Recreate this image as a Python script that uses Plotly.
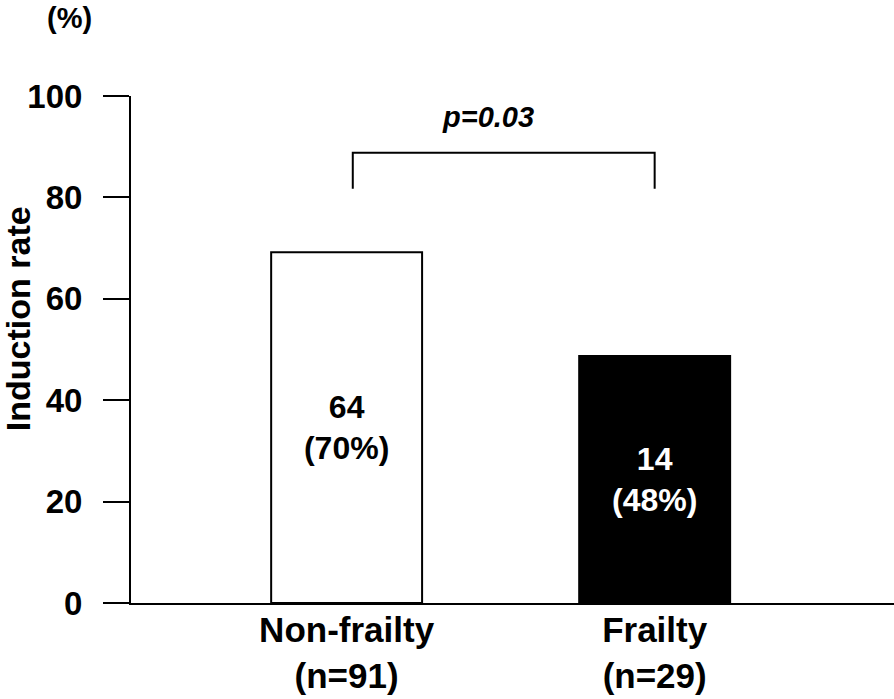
import plotly.graph_objects as go

categories = ["Non-frailty", "Frailty"]
n_labels = ["(n=91)", "(n=29)"]
rates = [69.2, 48.7]
counts = [64, 14]
pct_labels = ["(70%)", "(48%)"]
y_ticks = [0, 20, 40, 60, 80, 100]
p_label = "p=0.03"

FONT = "Liberation Sans, Arial, sans-serif"
xpos = list(range(len(categories)))

fig = go.Figure()
fig.add_trace(go.Bar(
    x=xpos, y=rates, width=0.49,
    marker=dict(color=["white", "black"], line=dict(color="black", width=2)),
    text=[f"{c}<br>{p}" for c, p in zip(counts, pct_labels)],
    textposition="inside", insidetextanchor="middle",
    textfont=dict(family=FONT, size=32, color=["black", "white"], weight="bold"),
    textangle=0, showlegend=False, hoverinfo="skip",
))

# significance bracket
br_top, br_bot = 88.8, 81.7
fig.add_shape(type="path", xref="x", yref="y",
              path=f"M 0.02 {br_bot} L 0.02 {br_top} L 1.0 {br_top} L 1.0 {br_bot}",
              line=dict(color="black", width=2))
fig.add_annotation(x=0.46, y=95.9, xref="x", yref="y", text=f"<i>{p_label}</i>",
                   showarrow=False, xanchor="center", yanchor="middle",
                   font=dict(family=FONT, size=29, color="black", weight="bold"))

fig.add_annotation(x=-0.148, y=0.56, xref="paper", yref="paper", text="Induction rate",
                   textangle=-90, showarrow=False, xanchor="center", yanchor="middle",
                   font=dict(family=FONT, size=34, color="black", weight="bold"))
fig.add_annotation(x=-0.08, y=1.154, xref="paper", yref="paper", text="(%)",
                   showarrow=False, xanchor="center", yanchor="middle",
                   font=dict(family=FONT, size=29, color="black", weight="bold"))

fig.update_layout(
    width=894, height=699,
    margin=dict(l=131, r=0, t=96, b=96),
    plot_bgcolor="white", paper_bgcolor="white",
    font=dict(family=FONT, color="black"),
    xaxis=dict(range=[-0.70, 1.777], tickvals=xpos, automargin=False,
               ticktext=[f"{c}<br>{n}" for c, n in zip(categories, n_labels)],
               showline=True, linecolor="black", linewidth=2, ticks="", showgrid=False,
               zeroline=False, ticklabelstandoff=-5,
               tickfont=dict(family=FONT, size=35, color="black", weight="bold")),
    yaxis=dict(range=[0, 100], tickvals=y_ticks, showline=True, linecolor="black", linewidth=2,
               ticks="outside", ticklen=26, tickwidth=2, tickcolor="black", showgrid=False,
               zeroline=False, ticklabelstandoff=14, automargin=False,
               tickfont=dict(family=FONT, size=33, color="black", weight="bold")),
)

fig.write_html("out.html", config={"displayModeBar": False},
               post_script="document.body.style.margin='0';document.body.style.padding='0';document.body.style.overflow='hidden';")
